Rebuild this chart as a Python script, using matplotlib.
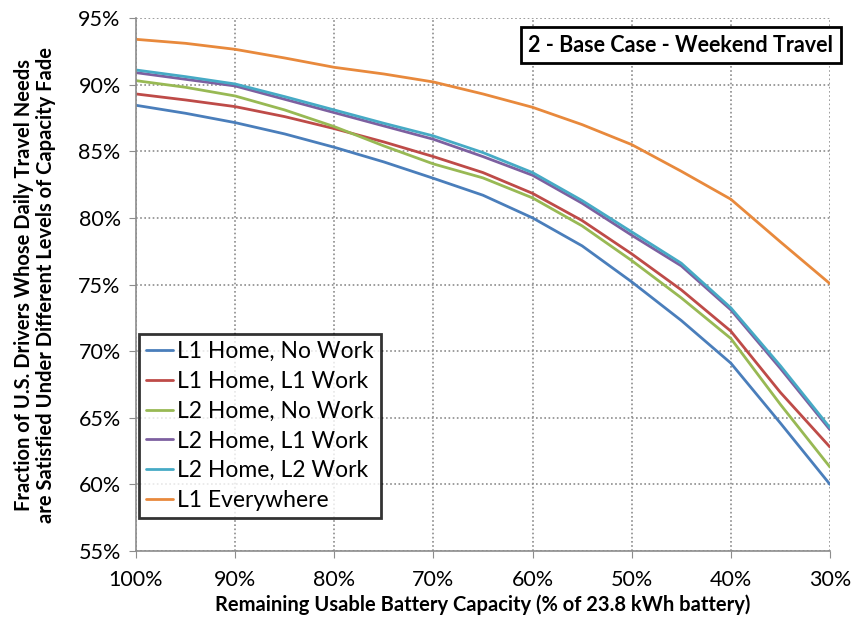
import matplotlib
matplotlib.use("Agg")
import matplotlib.pyplot as plt
from matplotlib.ticker import FuncFormatter

# remaining battery capacity, % of 23.8 kWh
capacity = [100, 95, 90, 85, 80, 75, 70, 65, 60, 55, 50, 45, 40, 35, 30]

l1_home_no_work = [88.45, 87.85, 87.15, 86.3, 85.3, 84.2, 82.97, 81.7, 80.0, 77.9, 75.2, 72.3, 69.1, 64.6, 60.0]
l1_home_l1_work = [89.3, 88.85, 88.35, 87.6, 86.7, 85.7, 84.6, 83.4, 81.84, 79.8, 77.3, 74.6, 71.5, 66.9, 62.8]
l2_home_no_work = [90.3, 89.8, 89.15, 88.1, 86.85, 85.4, 84.05, 83.0, 81.5, 79.4, 76.8, 74.0, 70.95, 66.0, 61.3]
l2_home_l1_work = [90.9, 90.4, 89.9, 88.9, 87.9, 86.9, 85.9, 84.6, 83.2, 81.1, 78.7, 76.4, 73.1, 68.7, 64.1]
l2_home_l2_work = [91.1, 90.6, 90.05, 89.1, 88.1, 87.1, 86.15, 84.9, 83.4, 81.3, 78.95, 76.6, 73.25, 68.9, 64.25]
l1_everywhere = [93.4, 93.1, 92.65, 92.0, 91.3, 90.8, 90.2, 89.3, 88.3, 87.0, 85.5, 83.5, 81.4, 78.2, 75.06]

series = [
    ("L1 Home, No Work", l1_home_no_work, "#4A7EBB"),
    ("L1 Home, L1 Work", l1_home_l1_work, "#BE4B48"),
    ("L2 Home, No Work", l2_home_no_work, "#98B954"),
    ("L2 Home, L1 Work", l2_home_l1_work, "#7D60A0"),
    ("L2 Home, L2 Work", l2_home_l2_work, "#46AAC5"),
    ("L1 Everywhere", l1_everywhere, "#E8893C"),
]

plt.rcParams["font.family"] = ["Lato", "DejaVu Sans"]

fig = plt.figure(figsize=(8.53, 6.21), dpi=100)
ax = fig.add_axes([0.1594, 0.1127, 0.8136, 0.8583])

for name, vals, col in series:
    ax.plot(capacity, vals, color=col, lw=2.0, label=name,
            solid_capstyle="round", solid_joinstyle="round")

ax.set_xlim(100, 30)
ax.set_ylim(55, 95)
ax.set_xticks(range(100, 29, -10))
ax.set_yticks(range(55, 96, 5))
pct = FuncFormatter(lambda v, p: "%d%%" % v)
ax.xaxis.set_major_formatter(pct)
ax.yaxis.set_major_formatter(pct)
ax.tick_params(labelsize=15.5, colors="#000000", length=5, color="#8C8C8C")
ax.tick_params(axis="x", pad=9)
ax.tick_params(axis="y", pad=6)

ax.grid(True, color="#8C8C8C", linestyle=(0, (1, 1.5)), lw=1.2)
ax.set_axisbelow(True)
for s in ["top", "right"]:
    ax.spines[s].set_visible(False)
for s in ["left", "bottom"]:
    ax.spines[s].set_color("#8C8C8C")
    ax.spines[s].set_linewidth(1.2)

ax.set_xlabel("Remaining Usable Battery Capacity (% of 23.8 kWh battery)",
              fontsize=14.5, fontweight="bold", labelpad=3)
ax.set_ylabel("Fraction of U.S. Drivers Whose Daily Travel Needs\n"
              "are Satisfied Under Different Levels of Capacity Fade",
              fontsize=14.5, fontweight="bold", labelpad=16, linespacing=1.1)

leg = ax.legend(loc="lower left", bbox_to_anchor=(0.0, 0.056), fontsize=16.5,
                frameon=True, fancybox=False, handlelength=1.15,
                handletextpad=0.2, labelspacing=0.38, borderpad=0.3,
                borderaxespad=0.15)
leg.get_frame().set_edgecolor("black")
leg.get_frame().set_linewidth(2)

ax.text(0.785, 0.949, "2 - Base Case - Weekend Travel", transform=ax.transAxes,
        ha="center", va="center", fontsize=15.5, fontweight="bold",
        bbox=dict(boxstyle="square,pad=0.35", fc="white", ec="black", lw=2))

fig.savefig("out.png", dpi=100)
